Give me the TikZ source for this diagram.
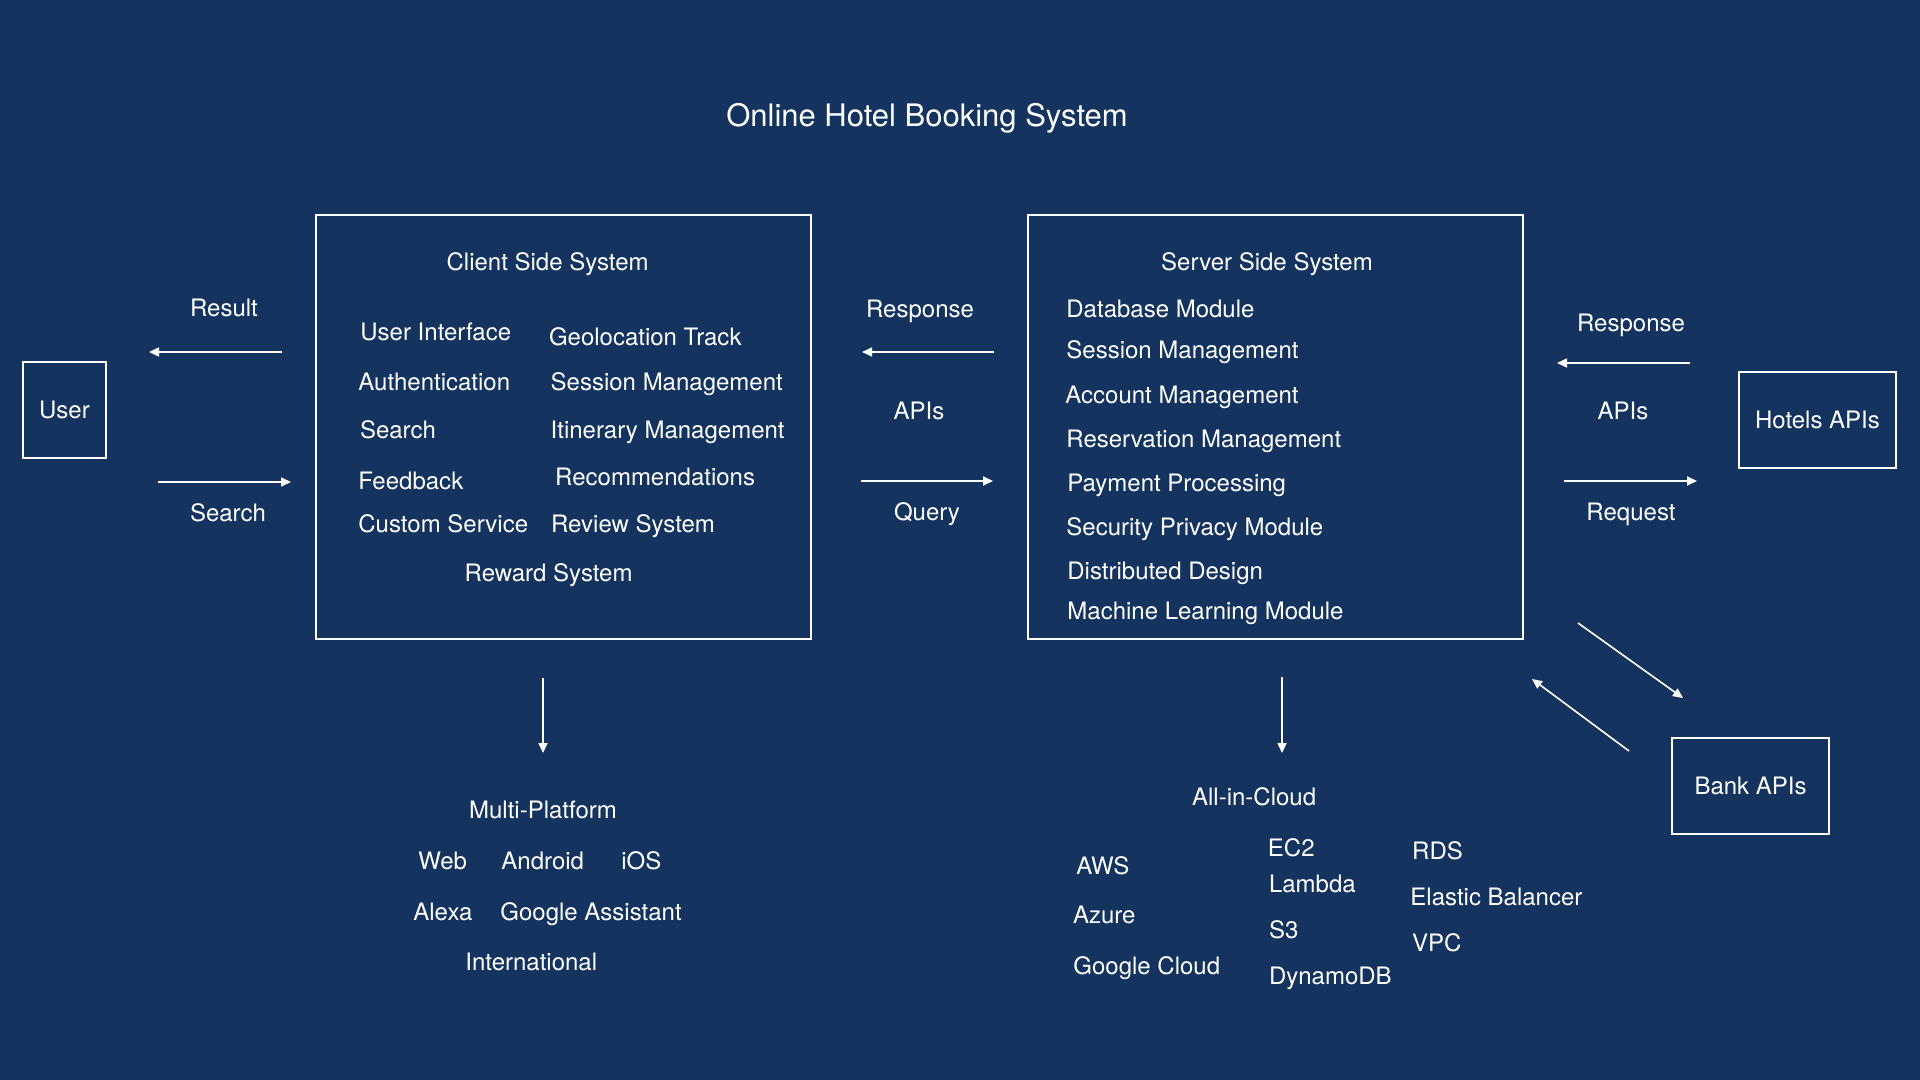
\documentclass[tikz,border=0pt]{standalone}
\usepackage{fontspec}
\setmainfont{TeX Gyre Heros}
\usetikzlibrary{arrows.meta}
\definecolor{bg}{RGB}{20,51,94}
\begin{document}
\begin{tikzpicture}[x=0.5pt,y=-0.5pt,
  every node/.style={text=white, font=\fontsize{12pt}{14pt}\selectfont},
  lbl/.style={inner sep=0pt, text height=8.6pt, text depth=0pt},
  L/.style={lbl, anchor=west},
  C/.style={lbl, anchor=center},
  frame/.style={draw=white, line width=1pt, lbl, anchor=center},
  conn/.style={draw=white, line width=0.8pt, -{Triangle[length=5pt,width=4.5pt]}},
]
\fill[bg] (0,0) rectangle (1920,1080);
\useasboundingbox (0,0) rectangle (1920,1080);

% title
\node[lbl, text height=11.1pt, font=\fontsize{15.5pt}{18pt}\selectfont] (title) at (927,115) {Online Hotel Booking System};

% boxes
\node[frame, minimum width=41.5pt, minimum height=48pt] (user) at (64.5,410) {User};
\node[frame, minimum width=78.5pt, minimum height=48pt] (hotels) at (1817.5,420) {Hotels APIs};
\node[frame, minimum width=78.5pt, minimum height=48pt] (bank) at (1750.5,786) {Bank APIs};
\node[frame, minimum width=247.5pt, minimum height=212pt] (client) at (563.5,427) {};
\node[frame, minimum width=247.5pt, minimum height=212pt] (server) at (1275.5,427) {};

% client texts
\node[C] (cst) at (547.6,262) {Client Side System};
\node[L] (c1) at (360,332) {User Interface};
\node[L] (c2) at (548.6,337) {Geolocation Track};
\node[L] (c3) at (358,382) {Authentication};
\node[L] (c4) at (550.3,382) {Session Management};
\node[L] (c5) at (359.6,430) {Search};
\node[L] (c6) at (550.3,430) {Itinerary Management};
\node[L] (c7) at (358,481) {Feedback};
\node[L] (c8) at (554.8,477) {Recommendations};
\node[L] (c9) at (358,524) {Custom Service};
\node[L] (c10) at (550.7,524) {Review System};
\node[L] (c11) at (464.3,573) {Reward System};

% server texts
\node[C] (sst) at (1267,262) {Server Side System};
\node[L] (s1) at (1066,309) {Database Module};
\node[L] (s2) at (1066,350) {Session Management};
\node[L] (s3) at (1065,395) {Account Management};
\node[L] (s4) at (1066,439) {Reservation Management};
\node[L] (s5) at (1067,483) {Payment Processing};
\node[L] (s6) at (1066,527) {Security Privacy Module};
\node[L] (s7) at (1067,571) {Distributed Design};
\node[L] (s8) at (1067,611) {Machine Learning Module};

% left labels and arrows
\node[C] (result) at (224,308) {Result};
\node[C] (searchl) at (228,513) {Search};
\coordinate (a1s) at (282,352); \coordinate (a1e) at (149,352);
\coordinate (a2s) at (158,482); \coordinate (a2e) at (291,482);
\draw[conn] (a1s) -- (a1e);
\draw[conn] (a2s) -- (a2e);

% middle
\node[C] (resp1) at (920,309) {Response};
\node[C] (apis1) at (919,411) {APIs};
\node[C] (query) at (927,512) {Query};
\coordinate (m1s) at (994,352); \coordinate (m1e) at (862,352);
\coordinate (m2s) at (861,481); \coordinate (m2e) at (993,481);
\draw[conn] (m1s) -- (m1e);
\draw[conn] (m2s) -- (m2e);

% right
\node[C] (resp2) at (1631,323) {Response};
\node[C] (apis2) at (1623,411) {APIs};
\node[C] (request) at (1631,512) {Request};
\coordinate (r1s) at (1690,363); \coordinate (r1e) at (1557,363);
\coordinate (r2s) at (1564,481); \coordinate (r2e) at (1697,481);
\coordinate (d1s) at (1578,623); \coordinate (d1e) at (1683,698);
\coordinate (d2s) at (1629,751); \coordinate (d2e) at (1532,679);
\draw[conn] (r1s) -- (r1e);
\draw[conn] (r2s) -- (r2e);
\draw[conn] (d1s) -- (d1e);
\draw[conn] (d2s) -- (d2e);

% bottom left
\coordinate (b1s) at (543,678); \coordinate (b1e) at (543,753);
\draw[conn] (b1s) -- (b1e);
\node[C] (mp) at (543,810) {Multi-Platform};
\node[L] (web) at (418,861) {Web};
\node[L] (android) at (501,861) {Android};
\node[L] (ios) at (621,861) {iOS};
\node[L] (alexa) at (413,912) {Alexa};
\node[L] (ga) at (500,912) {Google Assistant};
\node[L] (intl) at (465,962) {International};

% bottom right
\coordinate (b2s) at (1282,677); \coordinate (b2e) at (1282,753);
\draw[conn] (b2s) -- (b2e);
\node[L] (cloud) at (1191.7,797) {All-in-Cloud};
\node[L] (aws) at (1076,866) {AWS};
\node[L] (azure) at (1072.6,915) {Azure};
\node[L] (gc) at (1073,966) {Google Cloud};
\node[L] (ec2) at (1267.5,848) {EC2};
\node[L] (lambda) at (1268.6,884) {Lambda};
\node[L] (s3) at (1268.6,930) {S3};
\node[L] (dyn) at (1268.6,976) {DynamoDB};
\node[L] (rds) at (1411.8,851) {RDS};
\node[L] (elb) at (1410,897) {Elastic Balancer};
\node[L] (vpc) at (1411.8,943) {VPC};
\end{tikzpicture}
\end{document}
